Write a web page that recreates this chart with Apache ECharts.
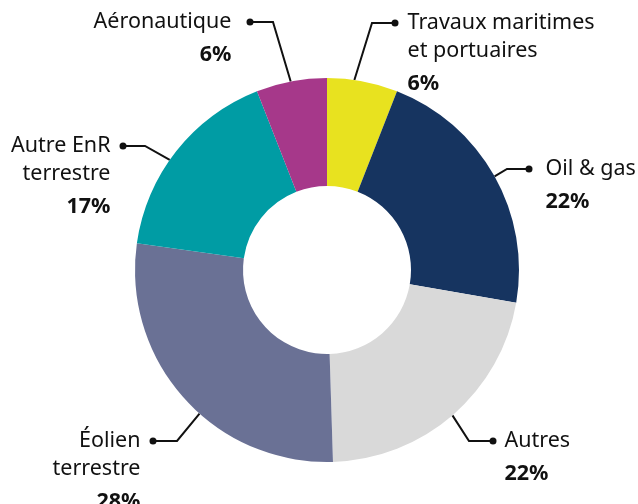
<!DOCTYPE html>
<html>
<head>
<meta charset="utf-8">
<script src="https://cdn.jsdelivr.net/npm/echarts@6/dist/echarts.min.js"></script>
<style>
html, body { margin: 0; padding: 0; background: #fff; }
#chart { width: 638px; height: 504px; }
</style>
</head>
<body>
<div id="chart"></div>
<script>
// données (sens horaire depuis midi)
var categories = ['Travaux maritimes\net portuaires', 'Oil & gas', 'Autres', 'Éolien\nterrestre', 'Autre EnR\nterrestre', 'Aéronautique'];
var shares = [6, 22, 22, 28, 17, 6];
var colors = ['#E8E21F', '#163460', '#D9D9D9', '#6A7195', '#009CA4', '#A6388A'];

var CX = 327, CY = 270, R0 = 84, R = 192;
var TXT = '#111111';

// lignes de rappel : angle de départ sur l'anneau, coude, point final, écart texte
var leaders = [
    { a: 8.2, bend: [372, 23], dot: 395, gap: 9 },
    { a: 60.8, bend: [507, 169], dot: 529, gap: 13 },
    { a: 139.2, bend: [469, 441], dot: 493, gap: 8 },
    { a: 221.6, bend: [177, 441], dot: 153, gap: 9 },
    { a: 305, bend: [145, 146], dot: 123, gap: 9 },
    { a: 349.1, bend: [273, 22], dot: 250, gap: 15 }
];

function richFor(i) {
    var L = leaders[i];
    var right = L.dot > CX;
    var inner = 7 + L.gap;
    var pad = function (v) { return right ? [0, 0, 0, v] : [0, v, 0, 0]; };
    var font = { fontFamily: 'Noto Sans', fontSize: 21.5, color: TXT };
    return {
        d: { width: 7, height: 7, borderRadius: 3.5, backgroundColor: TXT, lineHeight: 28 },
        t: Object.assign({ lineHeight: 28, padding: pad(L.gap) }, font),
        ti: Object.assign({ lineHeight: 28, padding: pad(inner) }, font),
        b: Object.assign({ lineHeight: 38, fontWeight: 'bold', padding: pad(inner) }, font)
    };
}

function labelText(i) {
    var right = leaders[i].dot > CX;
    var lines = categories[i].split('\n');
    var out = [];
    lines.forEach(function (l, k) {
        if (k === 0) {
            out.push(right ? '{d| }{t|' + l + '}' : '{t|' + l + '}{d| }');
        } else {
            out.push('{ti|' + l + '}');
        }
    });
    out.push('{b|' + shares[i] + '%}');
    return out.join('\n');
}

var data = [];
for (var i = 0; i < shares.length; i++) {
    data.push({
        name: categories[i],
        value: shares[i],
        itemStyle: { color: colors[i] },
        label: { formatter: labelText(i), rich: richFor(i) }
    });
}

var chart = echarts.init(document.getElementById('chart'));
chart.setOption({
    animation: false,
    backgroundColor: '#ffffff',
    series: [{
        type: 'pie',
        silent: true,
        center: [CX, CY],
        radius: [R0, R],
        startAngle: 90,
        clockwise: true,
        avoidLabelOverlap: false,
        itemStyle: { borderWidth: 0 },
        label: {
            show: true,
            position: 'outside',
            distanceToLabelLine: 0
        },
        labelLine: {
            show: true,
            length: 20,
            length2: 20,
            lineStyle: { color: TXT, width: 2 }
        },
        labelLayout: function (p) {
            var L = leaders[p.dataIndex];
            var a = L.a * Math.PI / 180;
            var start = [CX + R * Math.sin(a), CY - R * Math.cos(a)];
            var right = L.dot > CX;
            return {
                x: right ? L.dot - 3.5 : L.dot + 3.5,
                y: L.bend[1] - 14,
                align: right ? 'left' : 'right',
                verticalAlign: 'top',
                labelLinePoints: [start, L.bend, [L.dot, L.bend[1]]]
            };
        },
        data: data
    }]
});
</script>
</body>
</html>
